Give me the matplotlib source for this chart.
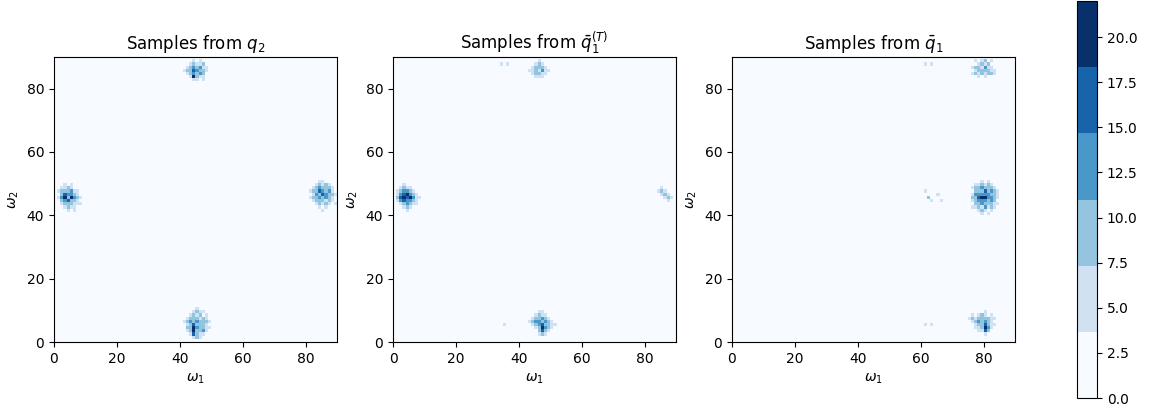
import numpy as np
import matplotlib
matplotlib.use('Agg')
import matplotlib.pyplot as plt

# cell counts of the 2D histograms (90 x 90 bins), cluster by cluster.
# each cluster: rows from the highest omega_2 down, starting at (x0, ytop)

# ---- samples from q2 ----
q2_top = [[0, 0, 0, 5, 0, 5, 0, 0, 0],
          [0, 0, 5, 9, 5, 5, 9, 0, 0],
          [0, 5, 9, 13, 9, 13, 5, 5, 0],
          [5, 9, 9, 16, 13, 9, 9, 5, 0],
          [0, 5, 9, 13, 9, 13, 9, 0, 0],
          [0, 0, 5, 20, 9, 5, 5, 0, 0],
          [0, 0, 0, 5, 5, 0, 5, 0, 0]]
q2_top_at = (41, 88)

q2_left = [[0, 0, 5, 0, 5, 0, 0, 0],
           [0, 5, 5, 9, 5, 0, 0, 0],
           [5, 9, 9, 9, 13, 5, 5, 0],
           [0, 9, 16, 13, 13, 9, 5, 0],
           [5, 13, 20, 9, 20, 13, 9, 5],
           [0, 9, 13, 16, 9, 9, 5, 0],
           [0, 5, 9, 9, 9, 5, 5, 5],
           [0, 0, 5, 9, 5, 5, 0, 0],
           [0, 0, 0, 5, 0, 5, 0, 0]]
q2_left_at = (1, 49)

q2_right = [[0, 0, 0, 5, 5, 0, 0, 0, 0],
            [0, 0, 5, 9, 5, 9, 5, 0, 0],
            [0, 5, 9, 13, 9, 9, 9, 5, 0],
            [5, 9, 9, 16, 13, 9, 13, 5, 0],
            [0, 5, 13, 9, 16, 13, 9, 9, 5],
            [5, 9, 9, 13, 9, 13, 9, 5, 0],
            [0, 5, 9, 9, 9, 5, 9, 5, 0],
            [0, 0, 5, 9, 5, 9, 5, 0, 5],
            [0, 0, 0, 5, 0, 5, 0, 0, 0],
            [0, 0, 0, 0, 5, 0, 0, 0, 0]]
q2_right_at = (81, 50)

q2_bottom = [[0, 0, 0, 0, 5, 0, 0, 0, 0],
             [0, 0, 0, 5, 9, 5, 5, 0, 0],
             [0, 0, 5, 9, 5, 9, 0, 5, 0],
             [0, 5, 9, 9, 9, 5, 9, 5, 0],
             [5, 9, 13, 9, 13, 9, 9, 9, 5],
             [0, 5, 9, 16, 9, 9, 9, 5, 0],
             [0, 9, 9, 20, 13, 9, 9, 5, 5],
             [0, 5, 9, 20, 9, 9, 13, 5, 0],
             [0, 0, 5, 16, 9, 5, 5, 0, 0],
             [0, 0, 0, 5, 9, 5, 0, 0, 0]]
q2_bottom_at = (41, 10)

# ---- samples from q1 bar (T) ----
qT_top = [[0, 0, 0, 5, 0, 0, 0],
          [0, 0, 5, 9, 5, 0, 0],
          [0, 5, 9, 9, 9, 5, 0],
          [5, 5, 9, 5, 13, 5, 5],
          [0, 5, 9, 9, 5, 5, 0],
          [0, 0, 5, 5, 5, 0, 0]]
qT_top_at = (43, 88)

qT_left = [[0, 0, 5, 0, 0, 0, 0, 0],
           [0, 5, 9, 5, 5, 0, 0, 0],
           [5, 9, 13, 13, 9, 5, 0, 0],
           [5, 13, 16, 20, 13, 9, 5, 0],
           [9, 16, 20, 16, 20, 13, 5, 5],
           [5, 13, 16, 13, 13, 9, 5, 0],
           [0, 5, 9, 13, 9, 5, 5, 0],
           [0, 0, 5, 9, 5, 0, 0, 0],
           [0, 0, 0, 5, 0, 0, 0, 0]]
qT_left_at = (1, 49)

qT_right = [[0, 5, 0, 0, 0],
            [5, 9, 5, 0, 0],
            [0, 5, 9, 5, 0],
            [0, 0, 5, 9, 5],
            [0, 0, 0, 5, 0]]
qT_right_at = (84, 48)

qT_bottom = [[0, 0, 0, 5, 5, 0, 0, 0, 0],
             [0, 0, 5, 9, 5, 5, 0, 0, 0],
             [0, 5, 9, 9, 13, 9, 5, 0, 0],
             [5, 9, 13, 13, 9, 13, 9, 5, 0],
             [0, 5, 9, 13, 16, 9, 9, 5, 5],
             [0, 0, 5, 9, 20, 13, 9, 5, 0],
             [0, 0, 0, 9, 16, 9, 5, 0, 0],
             [0, 0, 0, 5, 9, 5, 0, 0, 0]]
qT_bottom_at = (43, 9)

qT_stray_x = [34, 36, 35]
qT_stray_y = [87, 87, 5]
qT_stray_n = [5, 5, 5]

# ---- samples from q1 bar ----
q1_top = [[0, 5, 0, 5, 9, 0, 5, 0, 0],
          [0, 0, 5, 9, 5, 9, 0, 0, 0],
          [5, 9, 9, 5, 13, 5, 5, 0, 0],
          [0, 5, 9, 9, 9, 9, 5, 5, 0],
          [5, 9, 5, 9, 5, 9, 9, 5, 0],
          [0, 0, 5, 0, 5, 0, 0, 0, 0]]
q1_top_at = (76, 88)

q1_mid = [[0, 0, 0, 5, 0, 5, 0, 0, 0],
          [0, 5, 5, 9, 5, 9, 5, 0, 0],
          [5, 9, 9, 13, 9, 9, 9, 5, 0],
          [0, 9, 9, 9, 16, 9, 13, 9, 5],
          [5, 13, 13, 13, 13, 13, 9, 9, 5],
          [9, 9, 16, 20, 20, 13, 13, 9, 5],
          [5, 9, 13, 13, 13, 9, 13, 9, 0],
          [0, 9, 9, 13, 9, 9, 9, 5, 5],
          [5, 5, 9, 5, 13, 5, 9, 5, 0],
          [0, 0, 5, 9, 5, 0, 5, 0, 0],
          [0, 0, 0, 5, 0, 5, 0, 0, 0]]
q1_mid_at = (76, 50)

q1_bottom = [[0, 0, 0, 0, 0, 5, 0, 0, 0, 0],
             [0, 5, 0, 5, 9, 5, 0, 5, 0, 0],
             [5, 9, 5, 9, 9, 9, 9, 5, 5, 0],
             [0, 5, 9, 13, 9, 13, 9, 5, 0, 0],
             [0, 0, 5, 9, 9, 16, 9, 5, 5, 0],
             [0, 0, 5, 5, 9, 20, 13, 5, 0, 0],
             [0, 0, 0, 5, 5, 16, 9, 0, 0, 0],
             [0, 0, 0, 0, 0, 5, 0, 0, 0, 0]]
q1_bottom_at = (75, 9)

q1_stray_x = [61, 63, 61, 62, 63, 65, 66, 61, 63]
q1_stray_y = [87, 87, 47, 45, 44, 46, 44, 5, 5]
q1_stray_n = [5, 5, 5, 9, 5, 5, 5, 5, 5]

titles = [r'Samples from $q_2$', r'Samples from $\bar{q}_1^{(T)}$',
          r'Samples from $\bar{q}_1$']


def stamp(H, grid, at):
    x0, ytop = at
    for r, row in enumerate(grid):
        for c, v in enumerate(row):
            H[ytop - r, x0 + c] = v


def hist(clusters, sx=(), sy=(), sn=()):
    H = np.zeros((90, 90))
    for grid, at in clusters:
        stamp(H, grid, at)
    for x, y, n in zip(sx, sy, sn):
        H[y, x] = n
    return H


hists = [
    hist([(q2_top, q2_top_at), (q2_left, q2_left_at),
          (q2_right, q2_right_at), (q2_bottom, q2_bottom_at)]),
    hist([(qT_top, qT_top_at), (qT_left, qT_left_at),
          (qT_right, qT_right_at), (qT_bottom, qT_bottom_at)],
         qT_stray_x, qT_stray_y, qT_stray_n),
    hist([(q1_top, q1_top_at), (q1_mid, q1_mid_at),
          (q1_bottom, q1_bottom_at)],
         q1_stray_x, q1_stray_y, q1_stray_n),
]

W, Hpx = 1152, 409
fig = plt.figure(figsize=(W / 100, Hpx / 100), dpi=100)
cmap = matplotlib.colormaps['Blues'].resampled(6)

lefts = [54, 393, 732]
for left, H, title in zip(lefts, hists, titles):
    ax = fig.add_axes([left / W, (Hpx - 342) / Hpx, 283 / W, 285 / Hpx])
    im = ax.imshow(H, origin='lower', extent=[0, 90, 0, 90], cmap=cmap,
                   vmin=0, vmax=22, interpolation='nearest', aspect='auto')
    ax.set_xticks([0, 20, 40, 60, 80])
    ax.set_yticks([0, 20, 40, 60, 80])
    ax.set_xlabel(r'$\omega_1$')
    ax.set_ylabel(r'$\omega_2$')
    ax.set_title(title)

cax = fig.add_axes([1077 / W, (Hpx - 398) / Hpx, 20 / W, 397 / Hpx])
fig.colorbar(im, cax=cax)

fig.savefig('out.png', dpi=100)
